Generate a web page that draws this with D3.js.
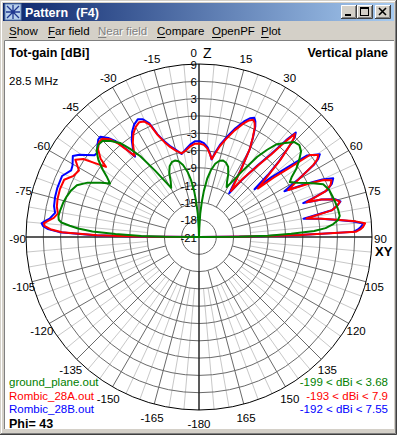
<!DOCTYPE html>
<html>
<head>
<meta charset="utf-8">
<script src="https://cdn.jsdelivr.net/npm/d3@7"></script>
<style>
  body { margin: 0; background: #d4d0c8; }
  text { font-family: "Liberation Sans", Arial, sans-serif; }
</style>
</head>
<body>
<div id="chart"></div>
<script>
const width = 397;
const height = 435;

// tick labels
const dbTicks = [-21, -18, -15, -12, -9, -6, -3, 0, 3, 6, 9];
const angleTicks = [-180, -165, -150, -135, -120, -105, -90, -75, -60, -45, -30, -15,
  15, 30, 45, 60, 75, 90, 105, 120, 135, 150, 165];
const menuItems = ["Show", "Far field", "Near field", "Compare", "OpenPF", "Plot"];
const fileNames = ["ground_plane.out", "Rombic_28A.out", "Rombic_28B.out"];
const gainRanges = ["-199 < dBi < 3.68", "-193 < dBi < 7.9", "-192 < dBi < 7.55"];
const colors = ["#008000", "#ff0000", "#0000ff"];

// [elevation angle from zenith, gain dBi]
const groundPlane = [
  [-90, -199], [-89.6, -15], [-89, -11], [-88, -6.5], [-87, -2.5], [-86, 0], [-85, 1.5],
  [-84, 3.0], [-83, 3.5], [-81.5, 3.65], [-79, 3.5], [-76, 3.3], [-73, 3.0], [-70, 2.6],
  [-67, 2.0], [-64, 0.5], [-61, -1.6], [-59, -3.0], [-57, -2.0], [-55, -0.6], [-52.5, 1.0],
  [-50, 2.2], [-47.5, 2.7], [-45, 2.6], [-42.5, 1.6], [-40, 0.3], [-38, -1.6], [-36, -3.7],
  [-33.5, -7.2], [-31, -10], [-29.5, -11.2], [-27, -10.2], [-25, -8.8], [-22.5, -7.7],
  [-20, -7.2], [-17.5, -7.1], [-15, -7.4], [-12.5, -8.2], [-10, -9.5], [-8, -11], [-6, -13],
  [-4.5, -15], [-3, -17], [-2, -19.5], [-1, -27], [0, -199],
  [1, -27], [2, -19.5], [3, -17], [4.5, -15], [6, -13], [8, -10.8], [10, -9.3], [12.5, -8],
  [15, -7.3], [17.5, -7.1], [20, -7.3], [22.5, -7.8], [25, -9], [27, -10.3], [29, -11.1],
  [31, -9.8], [33.5, -7.1], [36, -3.8], [38, -1.8], [40, 0], [42.5, 1.1], [45, 2.3],
  [47.5, 2.6], [50, 2.1], [52.5, 0.9], [55, -0.4], [57, -1.8], [58.8, -2.6], [61, -1.6],
  [64, 0.4], [67, 2.4], [70, 3.0], [73, 3.2], [76, 3.4], [79, 3.6], [81.5, 3.68], [83, 3.3],
  [84.5, 2.4], [86, 1.0], [87, -1], [88, -5], [89, -9], [89.6, -14], [90, -199]
];

const rombic28A = [
  [-90, -199], [-89.5, -10], [-89, -3.3], [-88, 2.8], [-87, 4.8], [-86, 5.8], [-85, 6.0],
  [-84, 5.4], [-82.5, 4.4], [-80.5, 3.8], [-78, 4.2], [-75, 4.4], [-71, 4.5], [-67, 4.4],
  [-64, 3.2], [-61, 2.8], [-58, 4.3], [-56, 3.2], [-54.5, 1.0], [-53, -0.8], [-51.5, 0.8],
  [-49, 2.2], [-46.5, 2.9], [-44.5, 2.9], [-42.5, 2.0], [-41, 0.6], [-39.5, -1.6],
  [-38.5, -3.0], [-37, -2.2], [-35, -1.0], [-32.5, 0.2], [-30, 1.0], [-27.5, 1.45],
  [-25.5, 1.2], [-23.6, 0.2], [-22, -2.0], [-20, -3.5], [-17.8, -4.6], [-15, -5.5],
  [-11.7, -6.2], [-8.5, -5.8], [-5.5, -5.2], [-2.5, -4.8], [0.5, -4.8], [3, -5.0],
  [5.5, -5.6], [7.5, -6.5], [9.3, -7.3], [11, -6.2], [13, -4.8], [15.7, -3.2], [18.5, -1.5],
  [21.3, 0.1], [23.2, 1.0], [24.9, 1.4], [26, 1.0], [27, 0.3], [28.5, -1.5], [30, -3.4],
  [32, -7.3], [34.8, -11.3], [37, -8.3], [39.5, -5.0], [41.2, -2.0], [42.2, 1.5],
  [42.9, 3.4], [43.8, 2.8], [44.7, 1.4], [46.5, -1.5], [48.1, -4.5], [50.5, -7.8],
  [51.5, -4.5], [52.5, -1.5], [53.5, 2.9], [55.5, 4.1], [56.8, 3.5], [57.8, 2.4],
  [59.8, -0.8], [62.2, -3.5], [64.2, 0.4], [65.5, 2.8], [66.8, 4.0], [68.5, 3.5],
  [70.2, 2.3], [71.3, 0], [72.1, -1.4], [73, 1.2], [74.5, 3.4], [75.9, 4.2], [77.2, 3.6],
  [78.6, 2.6], [80.2, -2.1], [81.5, 0.5], [83.1, 3.6], [84.3, 6.3], [85.3, 7.9], [86.5, 7.5],
  [87.3, 7.0], [88.1, 6.2], [88.9, -3.5], [89.5, -12], [90, -199]
];

const rombic28B = [
  [-90, -199], [-89.5, -10], [-89, -3], [-88, 3.2], [-87, 5.2], [-86, 6.1], [-85, 6.4],
  [-84, 5.8], [-83, 5.1], [-80.5, 4.3], [-78, 4.7], [-74.5, 4.9], [-71, 5.0], [-66, 5.0],
  [-62.5, 4.0], [-60.5, 4.2], [-57.3, 5.0], [-55.5, 4.2], [-54, 3.2], [-52, 2.0],
  [-50.5, 1.9], [-48, 2.7], [-46, 3.3], [-44.5, 3.4], [-42.5, 2.3], [-41, 1.0],
  [-39.5, -1.4], [-38.5, -3.2], [-37, -2.0], [-35, -0.7], [-32.5, 0.6], [-30, 1.5],
  [-27.5, 2.0], [-25.5, 1.6], [-23.6, 0.5], [-22, -1.8], [-20, -3.3], [-17.8, -4.4],
  [-15, -5.3], [-11.9, -6.3], [-8.5, -5.6], [-5.5, -4.9], [-2.5, -4.4], [0.5, -4.4],
  [3, -4.7], [5.5, -5.4], [7.5, -6.4], [9.2, -7.4], [11, -6.0], [13, -4.5], [15.7, -2.9],
  [18.5, -1.1], [21.3, 0.5], [23.2, 1.4], [24.9, 1.8], [26, 1.3], [27, 0.5], [28.5, -1.4],
  [30, -3.4], [32, -7.5], [34.6, -11.8], [37, -8.5], [39.3, -5.0], [41, -2.0], [42, 1.6],
  [42.8, 3.7], [43.8, 3.0], [44.7, 1.5], [46.5, -1.8], [48, -5.0], [49.3, -8.3],
  [50.5, -4.6], [51.8, -1.5], [53, 2.5], [55.6, 4.4], [56.8, 3.7], [57.8, 2.6],
  [59.8, -1.0], [61.8, -4.2], [63.5, -0.5], [65, 2.6], [66.4, 4.4], [68.2, 3.8], [70, 2.6],
  [71.2, 0], [72, -2.0], [73, 1.2], [74.5, 3.5], [75.9, 4.3], [77.2, 3.6], [78.6, 2.5],
  [80.1, -2.6], [81.5, 0.3], [83, 3.3], [84.3, 6.0], [85.3, 7.55], [86.5, 7.1], [87.3, 6.6],
  [88.1, 5.8], [88.9, -3.5], [89.5, -12], [90, -199]
];

const svg = d3.select("#chart")
  .append("svg")
  .attr("width", width)
  .attr("height", height);

// window frame
svg.append("rect").attr("width", width).attr("height", height).attr("fill", "#d4d0c8");
svg.append("path").attr("d", `M0.5,${height - 1}V0.5H${width - 1}`).attr("stroke", "#d4d0c8").attr("fill", "none");
svg.append("path").attr("d", `M1.5,${height - 2}V1.5H${width - 2}`).attr("stroke", "#fff").attr("fill", "none");
svg.append("path").attr("d", `M0,${height - 0.5}H${width - 0.5}V0`).attr("stroke", "#404040").attr("fill", "none");
svg.append("path").attr("d", `M1,${height - 1.5}H${width - 1.5}V1`).attr("stroke", "#808080").attr("fill", "none");

// title bar
const grad = svg.append("defs").append("linearGradient").attr("id", "tb");
grad.append("stop").attr("offset", "0%").attr("stop-color", "#0a246a");
grad.append("stop").attr("offset", "100%").attr("stop-color", "#a6caf0");
svg.append("rect").attr("x", 3).attr("y", 3).attr("width", 391).attr("height", 18).attr("fill", "url(#tb)");

// icon
const icon = svg.append("g").attr("transform", "translate(5,4)");
icon.append("rect").attr("width", 16).attr("height", 16).attr("fill", "#b8d0ec").attr("stroke", "#6080b0");
icon.append("path").attr("d", "M2,2L14,14M14,2L2,14M8,1V15M1,8H15")
  .attr("stroke", "#203890").attr("stroke-width", 1.3);

svg.append("text").attr("x", 25).attr("y", 17).attr("fill", "#fff")
  .attr("font-weight", "bold").attr("font-size", 12.5).text("Pattern");
svg.append("text").attr("x", 76).attr("y", 17).attr("fill", "#fff")
  .attr("font-weight", "bold").attr("font-size", 12.5).text("(F4)");

// caption buttons
[341, 357, 375].forEach((bx, i) => {
  const b = svg.append("g").attr("transform", `translate(${bx},5)`);
  b.append("rect").attr("width", 16).attr("height", 14).attr("fill", "#d4d0c8");
  b.append("path").attr("d", "M0.5,13.5V0.5H15.5").attr("stroke", "#fff").attr("fill", "none");
  b.append("path").attr("d", "M0,13.5H15.5V0").attr("stroke", "#404040").attr("fill", "none");
  b.append("path").attr("d", "M1,12.5H14.5V1").attr("stroke", "#808080").attr("fill", "none");
  if (i === 0) b.append("rect").attr("x", 4).attr("y", 9).attr("width", 6).attr("height", 2).attr("fill", "#000");
  if (i === 1) {
    b.append("rect").attr("x", 3.5).attr("y", 2.5).attr("width", 8).attr("height", 8).attr("fill", "none").attr("stroke", "#000");
    b.append("rect").attr("x", 3).attr("y", 2).attr("width", 9).attr("height", 2).attr("fill", "#000");
  }
  if (i === 2) b.append("path").attr("d", "M4,3L11,10M11,3L4,10").attr("stroke", "#000").attr("stroke-width", 1.6);
});

// menu bar
const menuX = [9, 48, 98, 157, 212, 261];
menuItems.forEach((m, i) => {
  const grey = i === 2;
  if (grey) {
    svg.append("text").attr("x", menuX[i] + 1).attr("y", 36).attr("font-size", 11.5).attr("fill", "#fff").text(m);
  }
  const t = svg.append("text").attr("x", menuX[i]).attr("y", 35).attr("font-size", 11.5)
    .attr("fill", grey ? "#808080" : "#000").text(m);
  const w0 = t.node().getSubStringLength(0, 1);
  svg.append("line").attr("x1", menuX[i]).attr("x2", menuX[i] + w0)
    .attr("y1", 37.5).attr("y2", 37.5).attr("stroke", grey ? "#808080" : "#000");
});

// client area
svg.append("rect").attr("x", 4).attr("y", 40).attr("width", 390).attr("height", 389).attr("fill", "#fff");
svg.append("path").attr("d", "M4.5,429V40.5H394").attr("stroke", "#808080").attr("fill", "none");

// polar plot
const cx = 199, cy = 237, R = 173;
const rScale = d3.scaleLinear().domain([-21, 9]).range([0, R]).clamp(true);
const plot = svg.append("g").attr("transform", `translate(${cx},${cy})`);
const rad = a => a * Math.PI / 180;

// spokes
d3.range(-180, 180, 5).forEach(a => {
  const major = a % 15 === 0;
  const r0 = major ? rScale(-15) : rScale(-12);
  plot.append("line")
    .attr("x1", r0 * Math.sin(rad(a))).attr("y1", -r0 * Math.cos(rad(a)))
    .attr("x2", R * Math.sin(rad(a))).attr("y2", -R * Math.cos(rad(a)))
    .attr("stroke", major ? "#6a6a6a" : "#c8c8c8");
});

// rings
dbTicks.slice(1).forEach(d => {
  plot.append("circle").attr("r", rScale(d)).attr("fill", "none")
    .attr("stroke", d === 9 ? "#000" : "#6a6a6a");
});

// axes
plot.append("line").attr("x1", 0).attr("x2", 0).attr("y1", -R).attr("y2", R).attr("stroke", "#000");
plot.append("line").attr("x1", -R).attr("x2", R).attr("y1", 0).attr("y2", 0).attr("stroke", "#000");

// ring labels
dbTicks.forEach(d => {
  plot.append("text").attr("x", -2).attr("y", -rScale(d) + 4.5)
    .attr("text-anchor", "end").attr("font-size", 11.5).text(d);
});

// angle labels
angleTicks.forEach(a => {
  plot.append("text")
    .attr("x", 181.5 * Math.sin(rad(a)))
    .attr("y", 1.5 - 185.5 * Math.cos(rad(a)) + 4)
    .attr("text-anchor", "middle").attr("font-size", 11.5).text(a);
});
plot.append("text").attr("x", -2).attr("y", -180).attr("text-anchor", "end").attr("font-size", 11.5).text("0");
plot.append("text").attr("x", 4).attr("y", -179).attr("font-size", 14).text("Z");
plot.append("text").attr("x", 176).attr("y", 19).attr("font-size", 13).attr("font-weight", "bold").text("XY");

// patterns
const line = d3.lineRadial()
  .angle(d => rad(d[0]))
  .radius(d => rScale(d[1]));

[rombic28B, rombic28A, groundPlane].forEach((s, i) => {
  plot.append("path").datum(s)
    .attr("d", line)
    .attr("fill", "none")
    .attr("stroke", colors[2 - i])
    .attr("stroke-width", 2)
    .attr("stroke-linejoin", "round");
});

// headings
svg.append("text").attr("x", 9).attr("y", 57).attr("font-weight", "bold").attr("font-size", 12.5).text("Tot-gain [dBi]");
svg.append("text").attr("x", 388).attr("y", 57).attr("text-anchor", "end").attr("font-weight", "bold").attr("font-size", 12.5).text("Vertical plane");
svg.append("text").attr("x", 9).attr("y", 85).attr("font-size", 11.5).text("28.5 MHz");

// legend
fileNames.forEach((f, i) => {
  svg.append("text").attr("x", 9).attr("y", 386 + i * 13.5).attr("font-size", 11.5)
    .attr("fill", colors[i]).text(f);
  svg.append("text").attr("x", 388).attr("y", 386 + i * 13.5).attr("font-size", 11.5)
    .attr("text-anchor", "end").attr("fill", colors[i]).text(gainRanges[i]);
});
svg.append("text").attr("x", 9).attr("y", 428).attr("font-weight", "bold").attr("font-size", 12.5).text("Phi= 43");
</script>
</body>
</html>
